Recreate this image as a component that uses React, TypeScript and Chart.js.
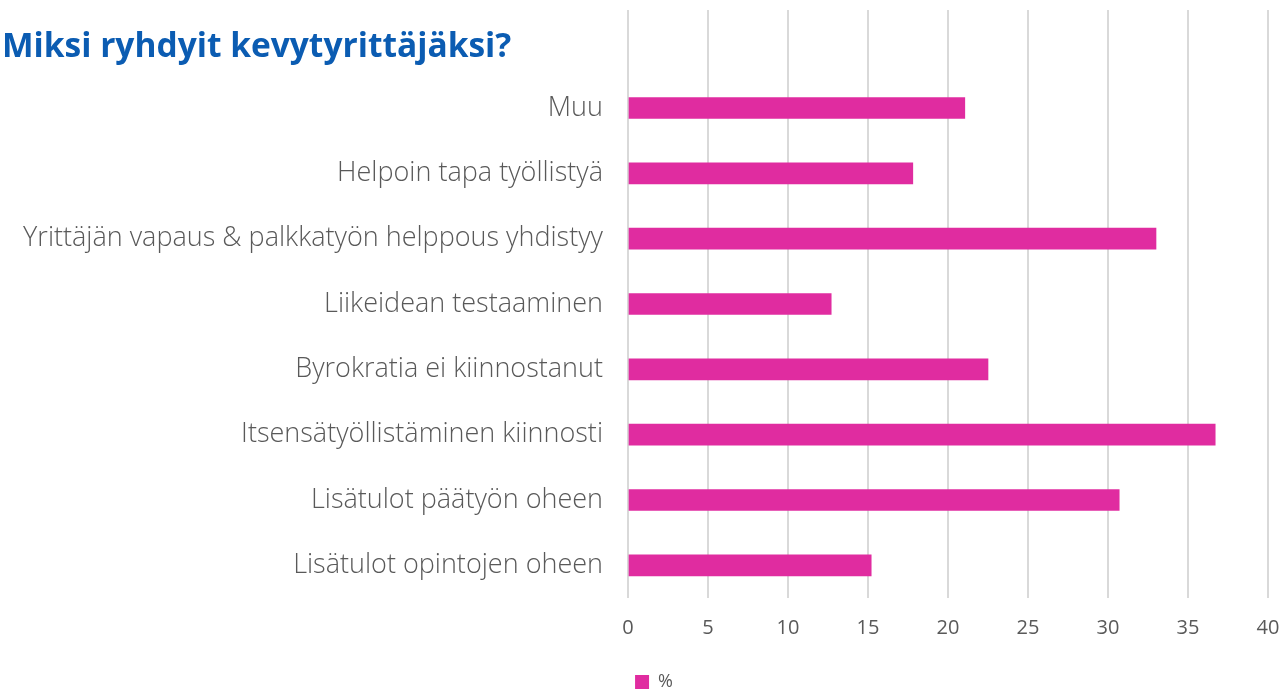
import { useEffect, useRef } from "react";
import { Chart, registerables } from "chart.js";

Chart.register(...registerables);

const titleText = "Miksi ryhdyit kevytyrittäjäksi?";
const seriesLabel = "%";
const categories = [
  "",
  "Muu",
  "Helpoin tapa työllistyä",
  "Yrittäjän vapaus & palkkatyön helppous yhdistyy",
  "Liikeidean testaaminen",
  "Byrokratia ei kiinnostanut",
  "Itsensätyöllistäminen kiinnosti",
  "Lisätulot päätyön oheen",
  "Lisätulot opintojen oheen",
];
const percentValues: (number | null)[] = [null, 21.05, 17.8, 33.0, 12.7, 22.5, 36.7, 30.7, 15.2];
const xMin = 0;
const xMax = 40;
const xStep = 5;

const BAR_COLOR = "#E02CA0";
const TEXT_COLOR = "#595959";
const GRID_COLOR = "#D9D9D9";

const legendShift = {
  id: "legendShift",
  afterLayout(chart: any) {
    const lg = chart.legend;
    if (lg) {
      lg.left += 20;
      lg.right += 20;
    }
  },
};

export default function App() {
  const canvasRef = useRef<HTMLCanvasElement | null>(null);

  useEffect(() => {
    const canvas = canvasRef.current;
    if (!canvas) return;
    const chart = new Chart(canvas, {
      type: "bar",
      data: {
        labels: categories,
        datasets: [
          {
            label: seriesLabel,
            data: percentValues,
            backgroundColor: BAR_COLOR,
            borderWidth: 0,
            barThickness: 21,
          },
        ],
      },
      options: {
        indexAxis: "y",
        responsive: false,
        animation: false,
        devicePixelRatio: 1,
        layout: { padding: { left: 0, right: 20, top: 10, bottom: -12 } },
        plugins: {
          title: { display: false },
          tooltip: { enabled: false },
          legend: {
            display: true,
            position: "bottom",
            labels: {
              boxWidth: 14,
              boxHeight: 14,
              padding: 10,
              color: TEXT_COLOR,
              font: { family: "'Open Sans', sans-serif", size: 18 },
            },
          },
        },
        scales: {
          x: {
            type: "linear",
            min: xMin,
            max: xMax,
            ticks: {
              stepSize: xStep,
              color: TEXT_COLOR,
              padding: 18,
              font: { family: "'Open Sans', sans-serif", size: 20 },
            },
            grid: { color: GRID_COLOR, lineWidth: 2, drawTicks: false },
            border: { display: false },
            afterFit: (s: any) => {
              s.height = 65;
              s.paddingLeft = 0;
              s.paddingRight = 0;
            },
          },
          y: {
            type: "category",
            ticks: {
              color: TEXT_COLOR,
              padding: 25,
              font: { family: "'Open Sans', sans-serif", size: 27, weight: 300 as any },
            },
            grid: { display: false, drawTicks: false },
            border: { display: false },
            afterFit: (s: any) => {
              s.width = 628;
              s.paddingTop = 0;
              s.paddingBottom = 0;
            },
          },
        },
      },
      plugins: [legendShift],
    });
    return () => chart.destroy();
  }, []);

  return (
    <div style={{ position: "absolute", left: 0, top: 0, width: 1288, height: 689, background: "#fff", overflow: "hidden" }}>
      <canvas ref={canvasRef} width={1288} height={689} style={{ display: "block" }} />
      <div
        style={{
          position: "absolute",
          left: 2,
          top: 28,
          fontFamily: "'Open Sans', sans-serif",
          fontWeight: 700,
          fontSize: 33.5,
          lineHeight: "33px",
          color: "#0B5CB2",
          whiteSpace: "nowrap",
        }}
      >
        {titleText}
      </div>
    </div>
  );
}
